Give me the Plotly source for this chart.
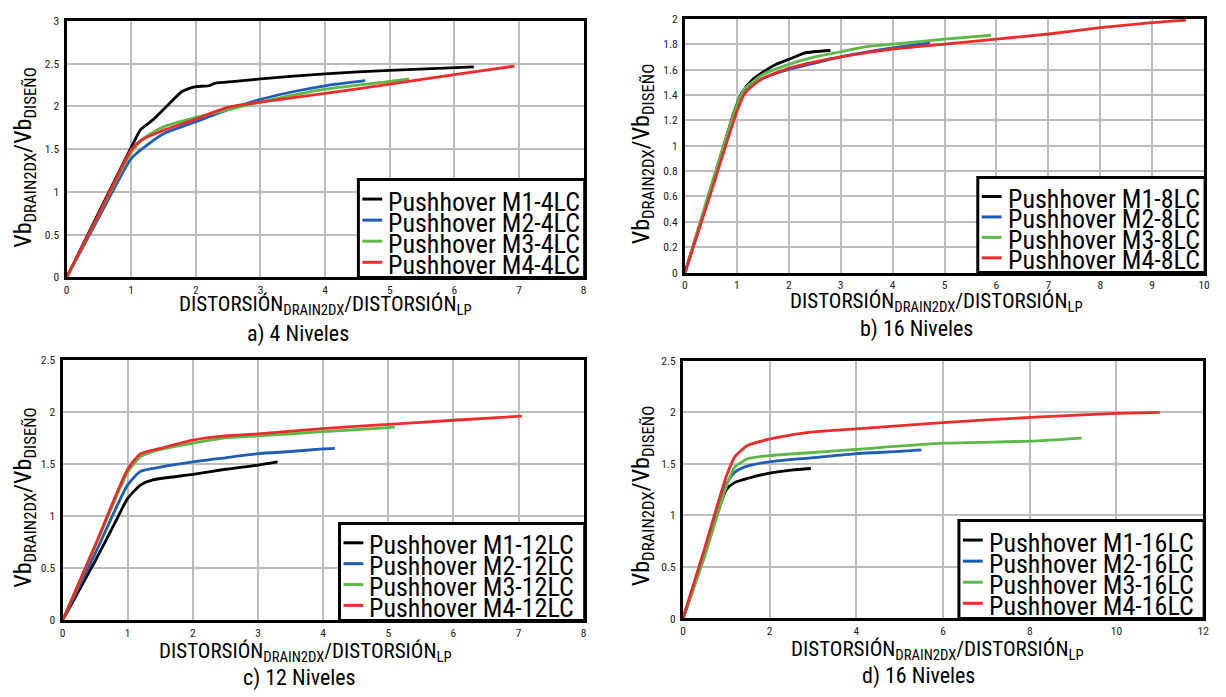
import plotly.graph_objects as go

# ---- data: normalised pushover curves (drift ratio vs base-shear ratio) ----
labels = ["Pushhover M1", "Pushhover M2", "Pushhover M3", "Pushhover M4"]
colors = ["#000000", "#1f5cb3", "#5cb947", "#ee2b2b"]

# a) 4 niveles
a_m1_x = [0, 0.5, 1.0, 1.15, 1.35, 1.55, 1.78, 1.9, 2.0, 2.2, 2.3, 2.6, 3.0, 4.0, 5.0, 6.3]
a_m1_y = [0, 0.76, 1.52, 1.73, 1.85, 2.0, 2.17, 2.21, 2.23, 2.24, 2.27, 2.29, 2.32, 2.38, 2.42, 2.46]
a_m2_x = [0, 0.5, 1.0, 1.25, 1.5, 2.0, 2.5, 3.0, 3.5, 4.0, 4.62]
a_m2_y = [0, 0.7, 1.39, 1.55, 1.68, 1.82, 1.96, 2.08, 2.17, 2.24, 2.3]
a_m3_x = [0, 0.5, 1.0, 1.2, 1.5, 2.0, 2.5, 3.0, 4.0, 5.0, 5.3]
a_m3_y = [0, 0.73, 1.46, 1.63, 1.76, 1.87, 1.96, 2.05, 2.2, 2.29, 2.32]
a_m4_x = [0, 0.5, 1.0, 1.15, 1.5, 2.0, 2.5, 3.0, 4.0, 5.0, 6.0, 6.93]
a_m4_y = [0, 0.74, 1.49, 1.6, 1.72, 1.85, 1.99, 2.05, 2.15, 2.26, 2.37, 2.47]

# b) 16 niveles (8LC)
b_m1_x = [0, 0.5, 0.95, 1.1, 1.3, 1.5, 1.75, 2.0, 2.3, 2.8]
b_m1_y = [0, 0.66, 1.27, 1.42, 1.52, 1.58, 1.64, 1.68, 1.73, 1.75]
b_m2_x = [0, 0.5, 1.0, 1.15, 1.3, 1.5, 2.0, 2.5, 3.0, 4.0, 4.72]
b_m2_y = [0, 0.64, 1.29, 1.42, 1.48, 1.53, 1.6, 1.65, 1.7, 1.77, 1.81]
b_m3_x = [0, 0.5, 1.0, 1.15, 1.3, 1.5, 2.0, 2.5, 3.0, 3.5, 4.0, 5.0, 5.9]
b_m3_y = [0, 0.68, 1.32, 1.45, 1.5, 1.56, 1.64, 1.7, 1.74, 1.78, 1.8, 1.84, 1.87]
b_m4_x = [0, 0.5, 1.0, 1.15, 1.3, 1.5, 2.0, 2.5, 3.0, 4.0, 5.0, 6.0, 7.0, 8.0, 9.0, 9.65]
b_m4_y = [0, 0.63, 1.27, 1.41, 1.47, 1.53, 1.61, 1.66, 1.7, 1.76, 1.8, 1.84, 1.88, 1.93, 1.97, 1.99]

# c) 12 niveles
c_m1_x = [0, 0.5, 0.8, 1.0, 1.2, 1.4, 2.0, 2.5, 3.0, 3.3]
c_m1_y = [0, 0.57, 0.93, 1.17, 1.3, 1.35, 1.4, 1.45, 1.49, 1.52]
c_m2_x = [0, 0.5, 1.0, 1.2, 1.5, 2.0, 2.5, 3.0, 3.5, 4.0, 4.18]
c_m2_y = [0, 0.64, 1.3, 1.43, 1.47, 1.52, 1.56, 1.6, 1.62, 1.645, 1.65]
c_m3_x = [0, 0.5, 1.0, 1.2, 1.5, 2.0, 2.5, 3.0, 4.0, 5.0, 5.1]
c_m3_y = [0, 0.71, 1.42, 1.57, 1.64, 1.7, 1.75, 1.77, 1.81, 1.85, 1.855]
c_m4_x = [0, 0.5, 1.0, 1.2, 1.5, 2.0, 2.5, 3.0, 4.0, 5.0, 6.0, 7.05]
c_m4_y = [0, 0.72, 1.45, 1.6, 1.65, 1.73, 1.77, 1.79, 1.84, 1.88, 1.92, 1.96]

# d) 16 niveles (16LC)
d_m1_x = [0, 0.5, 1.0, 1.2, 1.5, 2.0, 2.5, 2.95]
d_m1_y = [0, 0.62, 1.25, 1.32, 1.36, 1.41, 1.44, 1.455]
d_m2_x = [0, 0.5, 1.0, 1.2, 1.5, 2.0, 3.0, 4.0, 5.0, 5.5]
d_m2_y = [0, 0.63, 1.3, 1.42, 1.48, 1.52, 1.56, 1.6, 1.62, 1.635]
d_m3_x = [0, 0.5, 1.0, 1.2, 1.5, 2.0, 3.0, 4.0, 6.0, 8.0, 9.2]
d_m3_y = [0, 0.6, 1.28, 1.47, 1.55, 1.58, 1.61, 1.64, 1.7, 1.72, 1.75]
d_m4_x = [0, 0.5, 1.0, 1.2, 1.5, 2.0, 2.5, 3.0, 4.0, 6.0, 8.0, 10.0, 11.0]
d_m4_y = [0, 0.68, 1.38, 1.57, 1.68, 1.74, 1.78, 1.81, 1.84, 1.9, 1.95, 1.99, 2.0]

panels = [
    dict(tag="4LC", series=[(a_m1_x, a_m1_y), (a_m2_x, a_m2_y), (a_m3_x, a_m3_y), (a_m4_x, a_m4_y)],
         xr=[0, 8], xd=1, yr=[0, 3], yd=0.5, caption="a) 4 Niveles",
         box=(64, 585, 14, 276), leg=(358, 176, 586, 276), ytx=22, yty=153,
         tit=(325, 305), cap=(297, 334)),
    dict(tag="8LC", series=[(b_m1_x, b_m1_y), (b_m2_x, b_m2_y), (b_m3_x, b_m3_y), (b_m4_x, b_m4_y)],
         xr=[0, 10], xd=1, yr=[0, 2], yd=0.2, caption="b) 16 Niveles",
         box=(687, 1210, 12, 271), leg=(982, 174, 1211, 271), ytx=645, yty=150,
         tit=(940, 302), cap=(920, 329)),
    dict(tag="12LC", series=[(c_m1_x, c_m1_y), (c_m2_x, c_m2_y), (c_m3_x, c_m3_y), (c_m4_x, c_m4_y)],
         xr=[0, 8], xd=1, yr=[0, 2.5], yd=0.5, caption="c) 12 Niveles",
         box=(60, 585, 360, 626), leg=(339, 527, 586, 626), ytx=22, yty=500,
         tit=(305, 659), cap=(299, 685)),
    dict(tag="16LC", series=[(d_m1_x, d_m1_y), (d_m2_x, d_m2_y), (d_m3_x, d_m3_y), (d_m4_x, d_m4_y)],
         xr=[0, 12], xd=2, yr=[0, 2.5], yd=0.5, caption="d) 16 Niveles",
         box=(685, 1209, 361, 624), leg=(963, 524, 1210, 624), ytx=645, yty=499,
         tit=(941, 657), cap=(922, 683)),
]

W, H = 1226, 697
FONT = "Roboto Condensed, DejaVu Sans Condensed, Liberation Sans Narrow, Roboto, sans-serif"
fig = go.Figure()
annotations = []
shapes = []
layout = {}


def px(v):
    return v / W


def py(v):
    return 1 - v / H


for i, p in enumerate(panels):
    n = i + 1
    xa = "x" if n == 1 else f"x{n}"
    ya = "y" if n == 1 else f"y{n}"
    for k, (xs, ys) in enumerate(p["series"]):
        fig.add_trace(go.Scatter(
            x=xs, y=ys, mode="lines", name=f"{labels[k]}-{p['tag']}",
            line=dict(color=colors[k], width=2.8, shape="spline", smoothing=0.6),
            xaxis=xa, yaxis=ya, showlegend=False))
    l, r, t, b = p["box"]
    axis_common = dict(showline=True, mirror=True, linecolor="black", linewidth=3,
                       showgrid=True, gridcolor="#bdbdbd", gridwidth=1.5, zeroline=False,
                       ticks="", tickfont=dict(family=FONT, size=11.5, color="#222"))
    layout["xaxis" if n == 1 else f"xaxis{n}"] = dict(
        axis_common, domain=[px(l), px(r)], range=p["xr"], dtick=p["xd"], tick0=0,
        anchor=ya, ticklabelstandoff=0)
    layout["yaxis" if n == 1 else f"yaxis{n}"] = dict(
        axis_common, domain=[py(b), py(t)], range=p["yr"], dtick=p["yd"], tick0=0,
        anchor=xa, ticklabelstandoff=2)

    # boxed legend inside the lower-right corner of the plot
    lx0, ly0, lx1, ly1 = p["leg"]
    h = ly1 - ly0
    shapes.append(dict(type="rect", xref="paper", yref="paper",
                       x0=px(lx0), x1=px(lx1), y0=py(ly1), y1=py(ly0),
                       fillcolor="white", line=dict(color="black", width=3), layer="above"))
    for k in range(4):
        cy = ly0 + h * (0.2 + 0.215 * k)
        shapes.append(dict(type="line", xref="paper", yref="paper",
                           x0=px(lx0 + 4), x1=px(lx0 + 24), y0=py(cy), y1=py(cy),
                           line=dict(color=colors[k], width=3), layer="above"))
        annotations.append(dict(
            text=f"{labels[k]}-{p['tag']}", x=px(lx0 + 28), y=py(cy + 2.5),
            xref="paper", yref="paper", xanchor="left", yanchor="middle", showarrow=False,
            font=dict(family=FONT, size=26, color="black")))

    # axis titles and captions
    annotations.append(dict(
        text="DISTORSIÓN<sub>DRAIN2DX</sub>/DISTORSIÓN<sub>LP</sub>",
        x=px(p["tit"][0]), y=py(p["tit"][1]), xref="paper", yref="paper",
        xanchor="center", yanchor="middle", showarrow=False,
        font=dict(family=FONT, size=21, color="black")))
    annotations.append(dict(
        text=p["caption"], x=px(p["cap"][0]), y=py(p["cap"][1]),
        xref="paper", yref="paper", xanchor="center", yanchor="middle", showarrow=False,
        font=dict(family=FONT, size=22, color="black")))
    annotations.append(dict(
        text="Vb<sub>DRAIN2DX</sub>/Vb<sub>DISEÑO</sub>", textangle=-90,
        x=px(p["ytx"]), y=py(p["yty"]), xref="paper", yref="paper",
        xanchor="center", yanchor="middle", showarrow=False,
        font=dict(family=FONT, size=24, color="black")))

fig.update_layout(
    width=W, height=H, margin=dict(l=0, r=0, t=0, b=0),
    paper_bgcolor="white", plot_bgcolor="white", showlegend=False,
    font=dict(family=FONT), annotations=annotations, shapes=shapes, **layout)

fig.write_html("out.html")
